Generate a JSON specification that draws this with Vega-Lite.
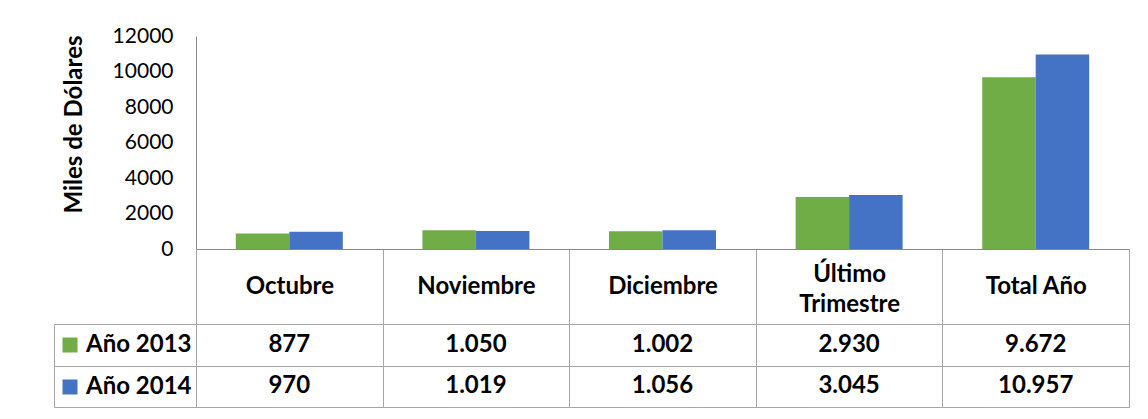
{
  "$schema": "https://vega.github.io/schema/vega-lite/v6.json",
  "padding": {"left": 53, "top": 25, "right": 10, "bottom": 5},
  "background": "white",
  "config": {
    "font": "Lato",
    "locale": {"number": {"decimal": ",", "thousands": ".", "grouping": [3], "currency": ["$", ""]}},
    "view": {"stroke": null}
  },
  "datasets": {
    "ventas": [
      {"mes": "Octubre", "serie": "Año 2013", "valor": 877},
      {"mes": "Noviembre", "serie": "Año 2013", "valor": 1050},
      {"mes": "Diciembre", "serie": "Año 2013", "valor": 1002},
      {"mes": "Último Trimestre", "serie": "Año 2013", "valor": 2930},
      {"mes": "Total Año", "serie": "Año 2013", "valor": 9672},
      {"mes": "Octubre", "serie": "Año 2014", "valor": 970},
      {"mes": "Noviembre", "serie": "Año 2014", "valor": 1019},
      {"mes": "Diciembre", "serie": "Año 2014", "valor": 1056},
      {"mes": "Último Trimestre", "serie": "Año 2014", "valor": 3045},
      {"mes": "Total Año", "serie": "Año 2014", "valor": 10957}
    ]
  },
  "bounds": "flush",
  "spacing": 75,
  "resolve": {"scale": {"x": "shared", "y": "independent"}},
  "vconcat": [
    {
      "width": 933,
      "height": 213,
      "data": {"name": "ventas"},
      "mark": {"type": "bar"},
      "encoding": {
        "x": {
          "field": "mes",
          "type": "nominal",
          "sort": ["Octubre", "Noviembre", "Diciembre", "Último Trimestre", "Total Año"],
          "scale": {"paddingInner": 0, "paddingOuter": 0},
          "axis": {
            "title": null,
            "orient": "bottom",
            "domainColor": "#898989",
            "tickColor": "#a6a6a6",
            "tickSize": 75,
            "tickBand": "extent",
            "labelPadding": -37.5,
            "labelBaseline": {"condition": {"test": "datum.value == 'Último Trimestre'", "value": "bottom"}, "value": "middle"},
            "labelFontSize": 24,
            "labelFontWeight": "bold",
            "labelColor": "#000000",
            "labelAngle": 0,
            "labelLineHeight": 30,
            "labelOverlap": false,
            "labelExpr": "datum.value == 'Último Trimestre' ? ['Último', 'Trimestre'] : datum.label"
          }
        },
        "xOffset": {
          "field": "serie",
          "type": "nominal",
          "sort": ["Año 2013", "Año 2014"],
          "scale": {"paddingInner": 0, "paddingOuter": 0.744}
        },
        "y": {
          "field": "valor",
          "type": "quantitative",
          "scale": {"domain": [0, 12000], "nice": false},
          "axis": {
            "title": "Miles de Dólares",
            "titleFontSize": 24,
            "titleFontWeight": "bold",
            "titleColor": "#000000",
            "titleX": -115,
            "titleY": 88,
            "titleBaseline": "alphabetic",
            "values": [0, 2000, 4000, 6000, 8000, 10000, 12000],
            "format": "d",
            "ticks": false,
            "grid": false,
            "labelPadding": 23,
            "labelFontSize": 21,
            "labelColor": "#000000",
            "domainColor": "#898989"
          }
        },
        "color": {
          "field": "serie",
          "type": "nominal",
          "scale": {"domain": ["Año 2013", "Año 2014"], "range": ["#70AD47", "#4472C4"]},
          "legend": {
            "title": null,
            "orient": "none",
            "legendX": -138,
            "legendY": 297,
            "padding": 0,
            "symbolType": "square",
            "symbolSize": 225,
            "symbolStrokeWidth": 0,
            "labelFontSize": 24,
            "labelFontWeight": "bold",
            "labelColor": "#000000",
            "labelOffset": 4,
            "rowPadding": 18,
            "labelLimit": 300
          }
        }
      }
    },
    {
      "width": 933,
      "height": 83,
      "data": {"name": "ventas"},
      "view": {"stroke": "#a6a6a6"},
      "mark": {"type": "text", "fontSize": 24, "fontWeight": "bold", "color": "#000000", "baseline": "middle"},
      "encoding": {
        "x": {
          "field": "mes",
          "type": "nominal",
          "sort": ["Octubre", "Noviembre", "Diciembre", "Último Trimestre", "Total Año"],
          "axis": {
            "title": null,
            "labels": false,
            "ticks": false,
            "domain": false,
            "grid": true,
            "tickBand": "extent",
            "gridColor": "#a6a6a6",
            "gridOpacity": 1
          }
        },
        "y": {
          "field": "serie",
          "type": "nominal",
          "sort": ["Año 2013", "Año 2014"],
          "scale": {"paddingInner": 0, "paddingOuter": 0},
          "axis": {
            "title": null,
            "labels": false,
            "offset": 142,
            "tickSize": -142,
            "tickBand": "extent",
            "tickColor": "#a6a6a6",
            "domainColor": "#a6a6a6",
            "grid": true,
            "gridColor": "#a6a6a6",
            "gridOpacity": 1
          }
        },
        "text": {"field": "valor", "type": "quantitative", "format": ",d"}
      }
    }
  ]
}
